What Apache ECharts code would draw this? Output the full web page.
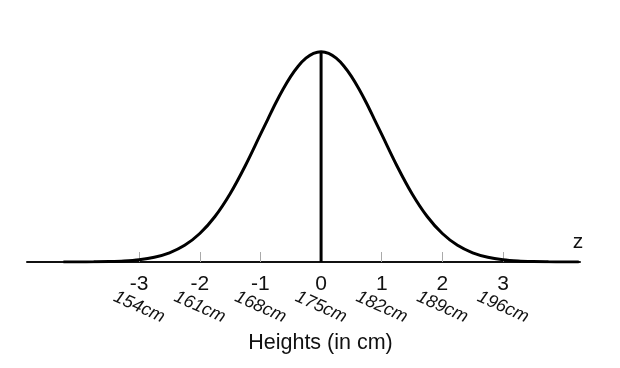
<!DOCTYPE html>
<html>
<head>
<meta charset="utf-8">
<script src="https://cdn.jsdelivr.net/npm/echarts@6/dist/echarts.min.js"></script>
<style>html,body{margin:0;padding:0;background:#fff}#c{width:620px;height:368px}</style>
</head>
<body>
<div id="c"></div>
<script>
// z positions along the curve and the curve heights (density units)
var zValues = [-4.25,-4,-3.75,-3.5,-3.25,-3,-2.75,-2.5,-2.25,-2,-1.75,-1.5,-1.25,-1,-0.875,-0.75,-0.625,-0.5,-0.375,-0.25,-0.125,0,0.125,0.25,0.375,0.5,0.625,0.75,0.875,1,1.25,1.5,1.75,2,2.25,2.5,2.75,3,3.25,3.5,3.75,4,4.25];
var density = [0.0000,0.0001,0.0004,0.0009,0.0020,0.0044,0.0091,0.0175,0.0317,0.0540,0.0863,0.1295,0.1826,0.2420,0.2716,0.3011,0.3281,0.3521,0.3719,0.3867,0.3958,0.3989,0.3958,0.3867,0.3719,0.3521,0.3281,0.3011,0.2716,0.2420,0.1826,0.1295,0.0863,0.0540,0.0317,0.0175,0.0091,0.0044,0.0020,0.0009,0.0004,0.0001,0.0000];
var tickZ = [-3,-2,-1,0,1,2,3];
var tickZLabels = ['-3','-2','-1','0','1','2','3'];
var tickCm = ['154cm','161cm','168cm','175cm','182cm','189cm','196cm'];
var meanLine = [[0,0],[0,0.3989]];

var curve = zValues.map(function(z,i){return [z, density[i]];});
function lbl(arr){return function(v){var i = tickZ.indexOf(Math.round(v)); return i>=0 ? arr[i] : '';};}
var FONT = 'Liberation Sans, Arial, sans-serif';

var chart = echarts.init(document.getElementById('c'), null, {renderer:'canvas'});
chart.setOption({
  animation:false,
  backgroundColor:'#ffffff',
  grid:{left:27,right:40,top:40.6,bottom:106},
  xAxis:[{
    type:'value', min:-4.85, max:4.27,
    splitLine:{show:false},
    axisLine:{show:true,onZero:false,lineStyle:{color:'#111',width:2}},
    axisTick:{show:true,inside:true,length:10,customValues:tickZ,lineStyle:{color:'#aaa',width:1}},
    axisLabel:{show:true,customValues:tickZ,formatter:lbl(tickZLabels),margin:12,
      color:'#111',fontSize:21,fontFamily:FONT},
    name:'z', nameLocation:'end', nameGap:-2,
    nameTextStyle:{color:'#111',fontSize:21,fontFamily:FONT,
      align:'center',verticalAlign:'bottom',padding:[0,0,9,0]}
  },{
    type:'value', min:-4.85, max:4.27, position:'bottom',
    splitLine:{show:false},
    axisLine:{show:false},
    axisTick:{show:false},
    axisLabel:{show:true,customValues:tickZ,formatter:lbl(tickCm),rotate:-24,margin:45,
      align:'center',verticalAlign:'middle',
      color:'#111',fontSize:18,fontStyle:'italic',fontFamily:FONT},
    name:'Heights (in cm)', nameLocation:'middle', nameGap:69,
    nameTextStyle:{color:'#111',fontSize:21.5,fontFamily:FONT,padding:[0,0,0,34]}
  }],
  yAxis:{type:'value',min:0,max:0.42,show:false,splitLine:{show:false}},
  series:[{
    type:'line', data:curve, smooth:0.35, showSymbol:false,
    lineStyle:{color:'#000',width:3}, z:3
  },{
    type:'line', data:meanLine, showSymbol:false,
    lineStyle:{color:'#000',width:3}, z:4
  }]
});
</script>
</body>
</html>
